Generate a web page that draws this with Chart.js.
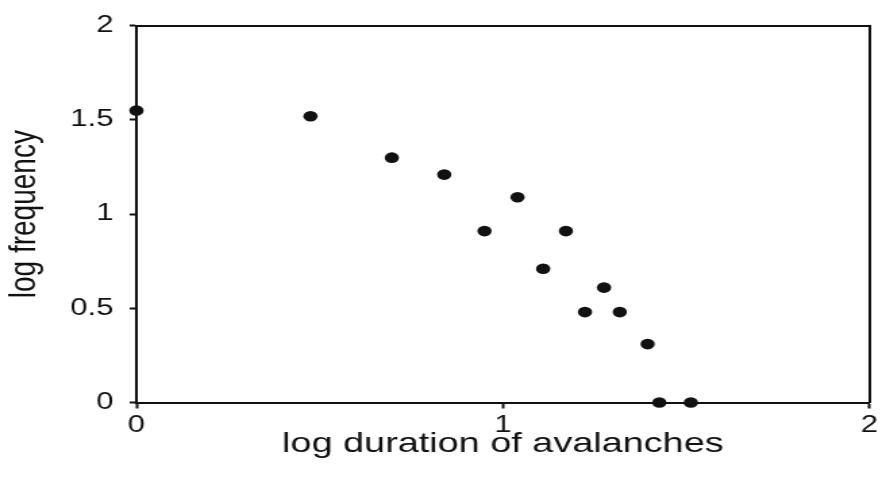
<!DOCTYPE html>
<html>
<head>
<meta charset="utf-8">
<script src="https://cdn.jsdelivr.net/npm/chart.js@4.4.1/dist/chart.umd.min.js"></script>
<style>
  html, body { margin: 0; padding: 0; background: #fff; overflow: hidden; }
  /* the source picture is stretched sideways, so the chart is drawn narrow and widened */
  #wrap { width: 653px; height: 477px; transform: scaleX(1.35069); transform-origin: 0 0; }
</style>
</head>
<body>
<div id="wrap"><canvas id="avalancheChart" width="653" height="477"></canvas></div>
<script>
// log duration (x) and log frequency (y)
var logDuration  = [0, 0.475, 0.697, 0.84, 0.95, 1.04, 1.11, 1.172, 1.224, 1.276, 1.319, 1.395, 1.427, 1.513];
var logFrequency = [1.55, 1.52, 1.30, 1.21, 0.91, 1.09, 0.71, 0.91, 0.48, 0.61, 0.48, 0.31, 0.0, 0.0];
var xTicks = [0, 1, 2];
var yTicks = [0, 0.5, 1, 1.5, 2];
var xTitle = "log duration of avalanches";
var yTitle = "log frequency";

var ink = "#111111";
var tickFont = { family: "'Liberation Sans', Arial, sans-serif", size: 23 };
var titleFont = { family: "'Liberation Sans', Arial, sans-serif", size: 28 };

var points = [];
for (var i = 0; i < logDuration.length; i++) {
    points.push({ x: logDuration[i], y: logFrequency[i] });
}

function fixedWidth(w) {
    return function (scale) { scale.width = w; };
}
function fixedHeight(h) {
    return function (scale) { scale.height = h; };
}
function plainLabel(value) {
    return String(value);
}

new Chart(document.getElementById("avalancheChart"), {
    type: "scatter",
    data: {
        datasets: [{
            data: points,
            backgroundColor: ink,
            borderColor: ink,
            borderWidth: 0,
            pointRadius: 5.3,
            pointHoverRadius: 5.3,
            clip: false
        }]
    },
    options: {
        responsive: false,
        animation: false,
        events: [],
        layout: { padding: { left: 0, right: 7.8, top: 20.5, bottom: 0 } },
        plugins: { legend: { display: false }, tooltip: { enabled: false } },
        scales: {
            x: {
                type: "linear",
                position: "bottom",
                min: 0,
                max: 2,
                afterBuildTicks: function (scale) {
                    scale.ticks = xTicks.map(function (v) { return { value: v }; });
                },
                afterFit: fixedHeight(74.5),
                grid: { display: true, drawOnChartArea: false, drawTicks: true, tickLength: 6, tickColor: ink, tickWidth: 2 },
                border: { display: true, color: ink, width: 2 },
                ticks: { color: ink, font: tickFont, padding: 3, maxRotation: 0, callback: plainLabel },
                title: { display: true, text: xTitle, color: ink, font: titleFont, padding: { top: 0, bottom: 16 } }
            },
            y: {
                type: "linear",
                position: "left",
                min: 0,
                max: 2,
                afterBuildTicks: function (scale) {
                    scale.ticks = yTicks.map(function (v) { return { value: v }; });
                },
                afterFit: fixedWidth(101),
                grid: { display: true, drawOnChartArea: false, drawTicks: true, tickLength: 5, tickColor: ink, tickWidth: 2 },
                border: { display: true, color: ink, width: 2 },
                ticks: { color: ink, font: tickFont, padding: 12, callback: plainLabel },
                title: { display: true, text: yTitle, color: ink, font: titleFont, padding: { top: 1, bottom: 0 } }
            },
            xTop: {
                type: "linear",
                position: "top",
                min: 0,
                max: 2,
                afterFit: fixedHeight(0),
                grid: { display: false },
                border: { display: true, color: ink, width: 2 },
                ticks: { display: false }
            },
            yRight: {
                type: "linear",
                position: "right",
                min: 0,
                max: 2,
                afterFit: fixedWidth(0),
                grid: { display: false },
                border: { display: true, color: ink, width: 2 },
                ticks: { display: false }
            }
        }
    }
});
</script>
</body>
</html>
